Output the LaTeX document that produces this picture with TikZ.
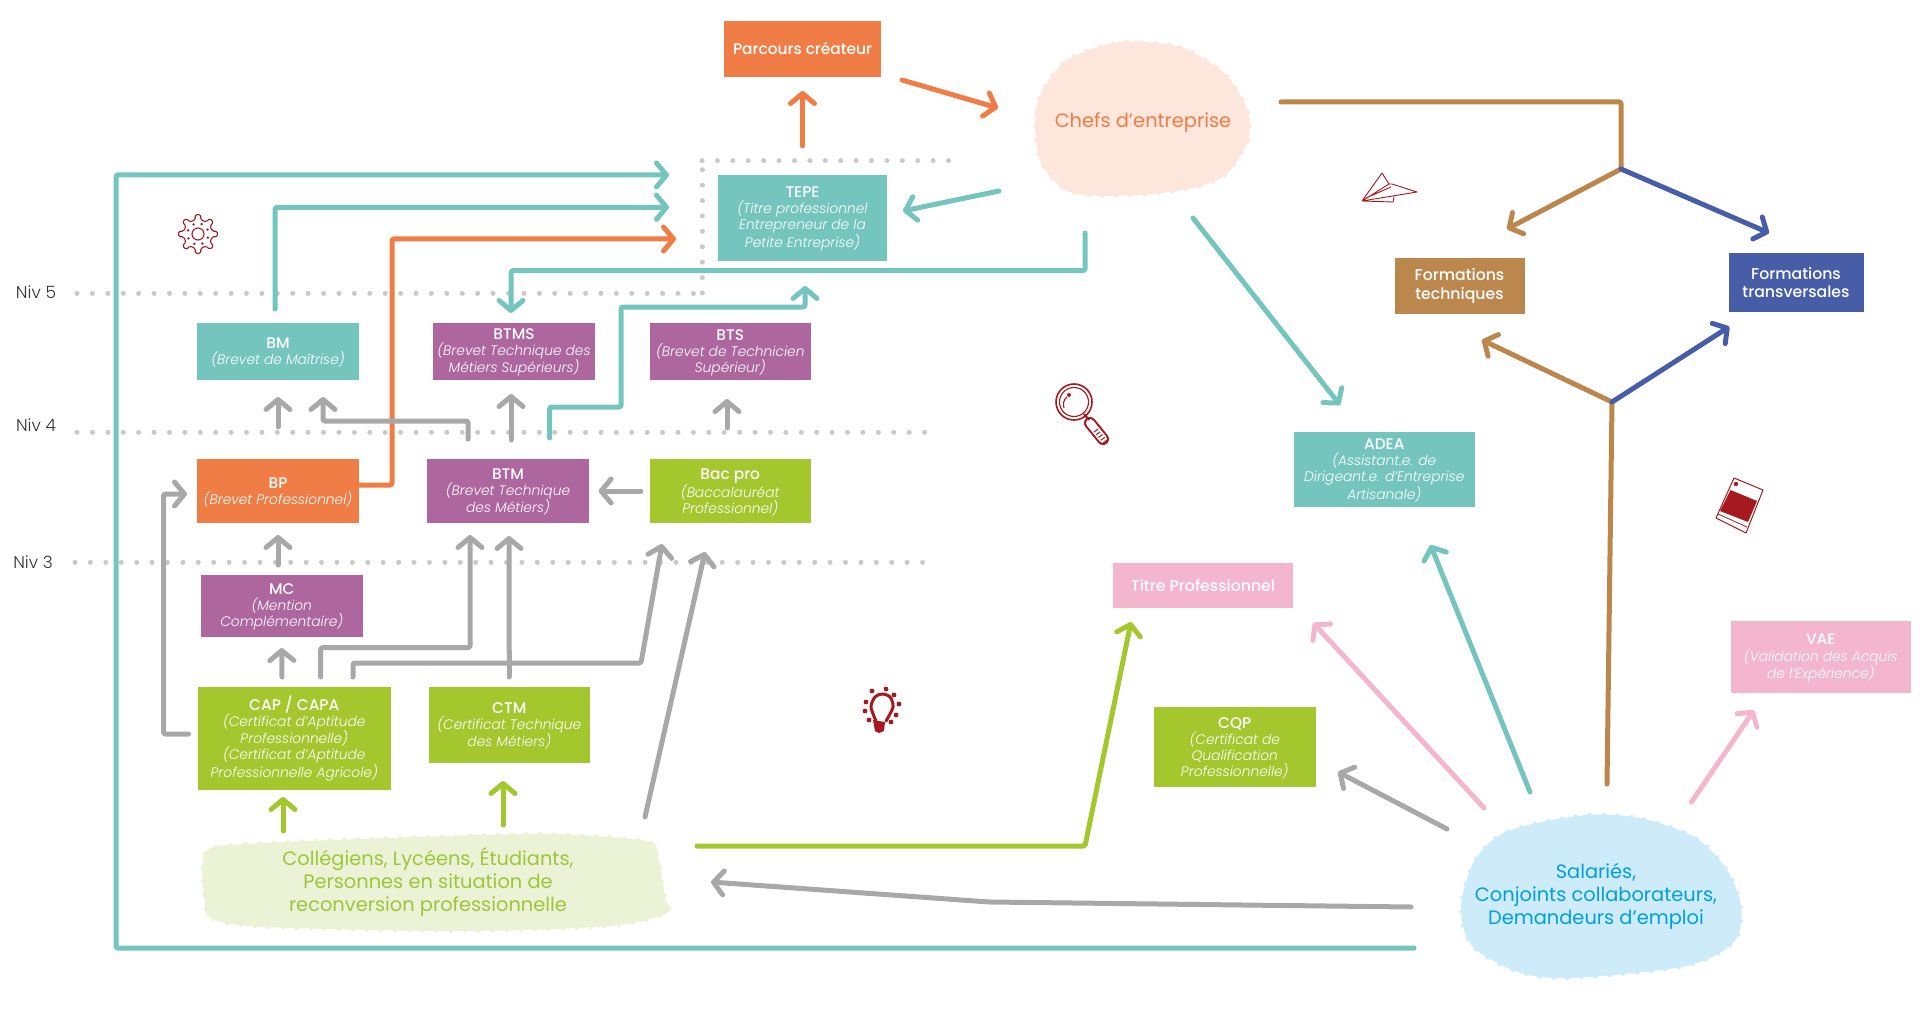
\documentclass[tikz,border=0pt]{standalone}
\usepackage{fontspec}
\setmainfont{Poppins Light}[BoldFont=Poppins Medium,ItalicFont=Poppins Light Italic,BoldItalicFont=Poppins Medium Italic]
\newfontfamily\blobfont{Poppins}
\usepackage{xcolor}
\usetikzlibrary{arrows.meta,positioning}

\definecolor{cteal}{HTML}{75C5BF}
\definecolor{corange}{HTML}{EF7D45}
\definecolor{cpurple}{HTML}{AE669F}
\definecolor{cgreen}{HTML}{A4C72E}
\definecolor{cbrown}{HTML}{BB874D}
\definecolor{cblue}{HTML}{475DA7}
\definecolor{cpink}{HTML}{F4B6CC}
\definecolor{cgray}{HTML}{A8A8A8}
\definecolor{cdot}{HTML}{C9C9C9}
\definecolor{cred}{HTML}{A6191E}
\definecolor{cpeach}{HTML}{FDE6DB}
\definecolor{clime}{HTML}{ECF2D6}
\definecolor{csky}{HTML}{CDEBF9}
\definecolor{ccyan}{HTML}{00A0E0}
\definecolor{cleaf}{HTML}{9DC63A}

\newcommand{\diplome}[2]{{\upshape\bfseries\fontsize{15.4}{17}\selectfont\rule{0pt}{13pt}#1}\\#2}

\begin{document}
\begin{tikzpicture}[
  x=1pt,y=-1pt,
  box/.style={rectangle,outer sep=0pt,inner sep=1pt,align=center,text=white,font=\fontsize{13.8}{16}\selectfont\itshape},
  boxflat/.style={box,font=\fontsize{15.7}{18.5}\selectfont\bfseries},
  arr/.style={-{Straight Barb[length=10pt,width=24pt,round]},line width=5pt,line cap=round,line join=round,rounded corners=1.5pt},
  arrgray/.style={arr,draw=cgray},
  arrteal/.style={arr,draw=cteal},
  arrorange/.style={arr,draw=corange},
  arrgreen/.style={arr,draw=cgreen},
  arrbrown/.style={arr,draw=cbrown},
  arrblue/.style={arr,draw=cblue},
  arrpink/.style={arr,draw=cpink},
  dotline/.style={draw=cdot,line width=5pt,line cap=round,dash pattern=on 0.01pt off 15.4pt},
  blobfill/.style={line width=4pt,line cap=round,dash pattern=on 0.01pt off 14pt},
  blobtext/.style={align=center,font=\blobfont\fontsize{19.4}{23}\selectfont},
  niv/.style={text=black!80,font=\fontsize{17}{20}\selectfont},
  icon/.style={draw=cred,line width=1.1pt,line join=round}
]
\useasboundingbox (0,0) rectangle (1920,1035);

% level lines
\node[niv] (niv5) at (36,292) {Niv 5};
\node[niv] (niv4) at (36,425) {Niv 4};
\node[niv] (niv3) at (33,562) {Niv 3};
\draw[dotline] (77,293) -- (702,293);
\draw[dotline] (702,293) -- (702,161);
\draw[dotline] (702,161) -- (950,161);
\draw[dotline] (77,432) -- (926,432);
\draw[dotline] (75,562) -- (926,562);

% blobs
\fill[cpeach] plot[smooth cycle] coordinates {(1120,42) (1180,47) (1223,72) (1243,100) (1249,118) (1247,143) (1223,177) (1177,191) (1113,196) (1067,191) (1041,163) (1035,123) (1041,93) (1067,60)};
\draw[cpeach,blobfill] plot[smooth cycle] coordinates {(1120,42) (1180,47) (1223,72) (1243,100) (1249,118) (1247,143) (1223,177) (1177,191) (1113,196) (1067,191) (1041,163) (1035,123) (1041,93) (1067,60)};
\fill[clime] plot[smooth cycle] coordinates {(205,853) (246,844) (418,837) (548,834) (646,841) (658,857) (665,897) (667,913) (609,926) (456,931) (265,927) (213,919) (205,903)};
\draw[clime,blobfill] plot[smooth cycle] coordinates {(205,853) (246,844) (418,837) (548,834) (646,841) (658,857) (665,897) (667,913) (609,926) (456,931) (265,927) (213,919) (205,903)};
\fill[csky] plot[smooth cycle] coordinates {(1586,815) (1644,819) (1696,838) (1727,870) (1741,907) (1734,942) (1686,966) (1571,978) (1518,972) (1472,946) (1461,907) (1475,860) (1508,831)};
\draw[csky,blobfill] plot[smooth cycle] coordinates {(1586,815) (1644,819) (1696,838) (1727,870) (1741,907) (1734,942) (1686,966) (1571,978) (1518,972) (1472,946) (1461,907) (1475,860) (1508,831)};
\node[blobtext,text=corange] (chefs) at (1143,122.5) {Chefs d’entreprise};
\node[blobtext,text=cleaf] (eleves) at (428,882) {Collégiens, Lycéens, Étudiants,\\Personnes en situation de\\reconversion professionnelle};
\node[blobtext,text=ccyan] (salaries) at (1596,896.5) {Salariés,\\Conjoints collaborateurs,\\Demandeurs d’emploi};

% boxes
\node[boxflat,fill=corange,minimum width=157pt,minimum height=56pt,font=\fontsize{15.4}{17}\selectfont\bfseries] (parcours) at (802.5,49) {\raisebox{1.5pt}{Parcours créateur}};
\node[box,fill=cteal,minimum width=169pt,minimum height=86pt] (tepe) at (802.5,218) {\diplome{TEPE}{(Titre professionnel\\Entrepreneur de la\\Petite Entreprise)}};
\node[box,fill=cteal,minimum width=162pt,minimum height=57pt] (bm) at (278,351.5) {\diplome{BM}{(Brevet de Maîtrise)}};
\node[box,fill=cpurple,minimum width=162pt,minimum height=57pt,right=74pt of bm] (btms) {\diplome{BTMS}{(Brevet Technique des\\Métiers Supérieurs)}};
\node[box,fill=cpurple,minimum width=161.5pt,minimum height=57pt,right=54.5pt of btms] (bts) {\diplome{BTS}{(Brevet de Technicien\\Supérieur)}};
\node[box,fill=corange,minimum width=162pt,minimum height=64pt,below=79pt of bm] (bp) {\diplome{BP}{(Brevet Professionnel)}};
\node[box,fill=cpurple,minimum width=162pt,minimum height=64pt,right=68pt of bp] (btm) {\diplome{BTM}{(Brevet Technique\\des Métiers)}};
\node[box,fill=cgreen,minimum width=161.5pt,minimum height=64pt,right=60.5pt of btm] (bacpro) {\diplome{Bac pro}{(Baccalauréat\\Professionnel)}};
\node[box,fill=cpurple,minimum width=161.5pt,minimum height=62pt] (mc) at (281.75,606) {\diplome{MC}{(Mention\\Complémentaire)}};
\node[box,fill=cgreen,minimum width=193.5pt,minimum height=103pt] (cap) at (294.25,738.5) {\diplome{CAP / CAPA}{(Certificat d’Aptitude\\Professionnelle)\\(Certificat d’Aptitude\\Professionnelle Agricole)}};
\node[box,fill=cgreen,minimum width=161.5pt,minimum height=76pt] (ctm) at (509.3,725) {\diplome{CTM}{(Certificat Technique\\des Métiers)}};
\node[boxflat,fill=cbrown,minimum width=130pt,minimum height=56pt] (ftech) at (1459.5,286) {Formations\\techniques};
\node[boxflat,fill=cblue,minimum width=135pt,minimum height=58.5pt] (ftrans) at (1796,282.5) {Formations\\transversales};
\node[box,fill=cteal,minimum width=180.5pt,minimum height=75pt] (adea) at (1384.25,469.5) {\diplome{ADEA}{(Assistant.e. de\\Dirigeant.e. d’Entreprise\\Artisanale)}};
\node[boxflat,fill=cpink,minimum width=179.5pt,minimum height=44.5pt] (titre) at (1203,585.5) {Titre Professionnel};
\node[box,fill=cgreen,minimum width=161.5pt,minimum height=80pt] (cqp) at (1234.75,747) {\diplome{CQP}{(Certificat de\\Qualification\\Professionnelle)}};
\node[box,fill=cpink,minimum width=179.5pt,minimum height=71.7pt] (vae) at (1820.75,657) {\diplome{VAE}{(Validation des Acquis\\de l’Expérience)}};

\coordinate (splittop) at (1621,169);
\coordinate (splitlow) at (1612,402);

% left part
\draw[arrteal] ([shift={(-182,51.5)}]salaries.center) -- (116,948) |- ([xshift=-49pt]tepe.north west);
\draw[arrteal] ([shift={(-3,-14)}]bm.north) |- ([shift={(-49,32.3)}]tepe.north west);
\draw[arrorange] ([yshift=6pt]bp.east) -- ++(33,0) |- ([shift={(-42,64)}]tepe.north west);
\draw[arrteal] ([shift={(-58,110.5)}]chefs.center) -- ++(0,37.7) -| ([shift={(-3,-10)}]btms.north);
\draw[arrteal] ([shift={(41.6,-21)}]btm.north) |- (621,407) |- (805,307) -- ([shift={(2.5,25)}]tepe.south);
\draw[arrgray] ([yshift=32pt]bp.north) -- ([yshift=-17pt]bm.south);
\draw[arrgray] ([shift={(-40,-20)}]btm.north) |- (323,421) -- ([shift={(45,17)}]bm.south);
\draw[arrgray] ([shift={(3,-19)}]btm.north) -- ([shift={(-3,14)}]btms.south);
\draw[arrgray] ([shift={(-3.25,-31)}]bacpro.north) -- ([shift={(-3.25,19)}]bts.south);
\draw[arrgray] ([xshift=-8.6pt]bacpro.west) -- ([xshift=9.6pt]btm.east);
\draw[arrgray] ([shift={(-3.75,-10)}]mc.north) -- ([shift={(0,12)}]bp.south);
\draw[arrgray] ([shift={(-12.25,-10)}]cap.north) -- ([shift={(0,11)}]mc.south);
\draw[arrgray] ([shift={(26.45,-10)}]cap.north) |- (470,647.7) -- ([shift={(-38,12)}]btm.south);
\draw[arrgray] ([shift={(58.75,-10)}]cap.north) |- (641,663) -- ([shift={(-68.25,21)}]bacpro.south);
\draw[arrgray] ([yshift=10pt]ctm.north) -- ([shift={(1,13)}]btm.south);
\draw[arrgray] ([shift={(-9,-4.5)}]cap.west) -- ++(-25,0) |- ([shift={(-10,3)}]bp.west);
\draw[arrgray] ([shift={(217,-65)}]eleves.center) -- ([shift={(-25.25,29)}]bacpro.south);
\draw[arrgreen] ([shift={(-145,-51)}]eleves.center) -- ([shift={(-11.25,7)}]cap.south);
\draw[arrgreen] ([shift={(75,-57)}]eleves.center) -- ([shift={(-6.3,18)}]ctm.south);
\draw[arrgreen] ([shift={(269,-36)}]eleves.center) -- (1085,846) -- ([shift={(-72,14.3)}]titre.south);
\draw[arrgray] ([shift={(-185,10.5)}]salaries.center) -- (989,902) -- ([shift={(283,0)}]eleves.center);

% right part
\draw[arrgray] ([shift={(-149,-67.5)}]salaries.center) -- ([shift={(22.5,25)}]cqp.east);
\draw[arrpink] ([shift={(-112,-88.5)}]salaries.center) -- ([shift={(20.5,37.5)}]titre.east);
\draw[arrteal] ([shift={(-66,-104.5)}]salaries.center) -- ([shift={(46.25,38)}]adea.south);
\draw[arrpink] ([shift={(95.5,-94.5)}]salaries.center) -- ([shift={(-66.75,17.3)}]vae.south);
\draw[arrbrown,-] ([shift={(11,-112.5)}]salaries.center) -- (splitlow);
\draw[arrbrown] (splitlow) -- ([shift={(22.5,26)}]ftech.south);
\draw[arrblue] (splitlow) -- ([shift={(0.8,15)}]ftrans.south west);
\draw[arrbrown,-] ([shift={(138,-20.5)}]chefs.center) -| (splittop);
\draw[arrbrown] (splittop) -- ([shift={(47.5,-29)}]ftech.north);
\draw[arrblue] (splittop) -- ([shift={(-27,-20.3)}]ftrans.north);
\draw[arrteal] ([shift={(50,95.5)}]chefs.center) -- ([shift={(-44.25,-27)}]adea.north);
\draw[arrteal] ([shift={(-144,68.5)}]chefs.center) -- ([shift={(16,-7)}]tepe.east);
\draw[arrorange] ([yshift=29pt]tepe.north) -- ([yshift=-14pt]parcours.south);
\draw[arrorange] ([shift={(21,31)}]parcours.east) -- ([shift={(-145,-14.5)}]chefs.center);

% icons
\begin{scope}[shift={(198,234)}]
\draw[icon,rounded corners=1.5pt] (-11:14.5) \foreach \a in {0,45,...,315} { -- ({\a-11}:14.5) -- ({\a-8}:19.5) -- ({\a+8}:19.5) -- ({\a+11}:14.5) } -- cycle;
\draw[icon] (0,0) circle (6);
\foreach \a in {20,65,...,335} \fill[cred] (\a:10.5) circle (1.3);
\end{scope}
\draw[icon,line width=.9pt] (1362,201) -- (1382,173) -- (1389,184) -- cycle (1389,184) -- (1392,184) -- (1417,192) -- (1362,201) (1366,198) -- (1391,187) (1362,201) -- (1393,202) -- (1394,197);
\draw[icon,line width=1.6pt] (1074,402) circle (18);
\draw[icon] (1074,402) circle (14.5);
\fill[cred] (1069,395) circle (2);
\draw[icon] (1064,408) arc (160:230:10);
\draw[cred,line width=12pt,line cap=round] (1090,423) -- (1103,439);
\draw[white,line width=8pt,line cap=round] (1090,423) -- (1103,439);
\draw[icon,line width=2.2pt] (1084,414) -- (1089,420);
\foreach \t in {0,.25,.5,.75,1} \draw[icon,line width=1pt] ({1094+9*\t},{432+11*\t}) -- ++(4,-3);
\draw[icon,fill=white,line width=1pt] (1734,478) -- (1763,490) -- (1746,533) -- (1716,518) -- cycle;
\fill[cred] (1730.5,490) -- (1757,501) -- (1748,522) -- (1720,511) -- cycle;
\fill[cred] (1736,484) circle (2.2);
\draw[icon,line width=.8pt] (1718,514) -- (1747,527);
\draw[cred,line width=3pt,line cap=round,line join=round] plot[smooth] coordinates {(876,721) (871,707) (875,697) (882,694) (890,697) (893,707) (886,721)};
\fill[cred] (873,720) -- (885,722) -- (884,731) -- (879,733) -- (875,731) -- cycle;
\foreach \px/\py in {886/689,872/691,894/695,866/702,899/704,865/711,896/715,869/720,891/722} \fill[cred] (\px,\py) circle (2.4);
\end{tikzpicture}
\end{document}
